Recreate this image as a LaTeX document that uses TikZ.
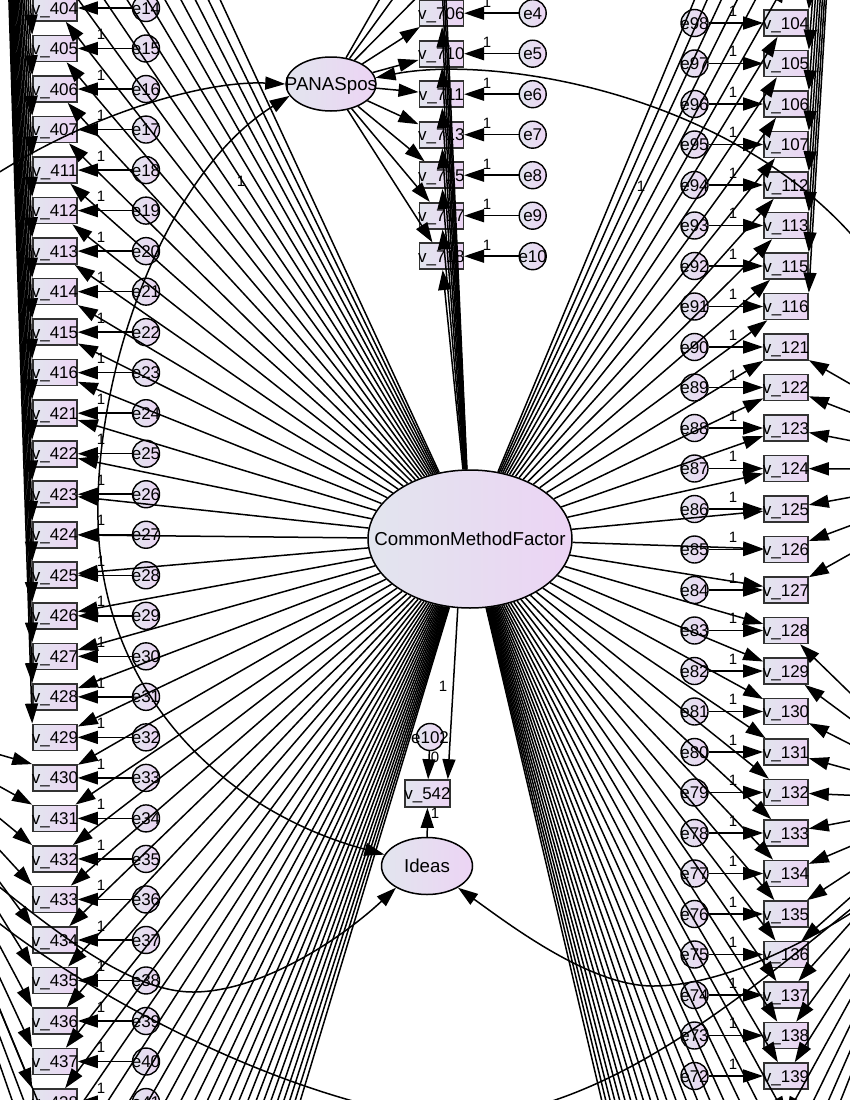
\documentclass[tikz,border=0pt]{standalone}
\usepackage{fontspec}
\setmainfont{Liberation Sans}
\usetikzlibrary{arrows.meta,shapes.geometric,calc}
\definecolor{gl}{RGB}{226,229,238}
\definecolor{gr}{RGB}{236,212,244}
\definecolor{bord}{RGB}{50,50,50}
\tikzset{
  lbl/.style={font=\fontsize{17}{18}\selectfont,inner sep=0pt,text height=12.2pt,text depth=0pt},
  biglbl/.style={font=\fontsize{18.7}{20}\selectfont,inner sep=0pt,text height=13.4pt,text depth=0pt},
  obs/.style={rectangle,draw=bord,line width=1.6pt,minimum width=44pt,minimum height=26pt,inner sep=0pt,left color=gl,right color=gr},
  err/.style={circle,draw=black,line width=1.4pt,minimum size=27pt,inner sep=0pt,left color=gl,right color=gr},
  lat/.style={ellipse,draw=black,line width=1.5pt,inner sep=0pt,left color=gl,right color=gr},
  arr/.style={-{Triangle[length=20pt,width=13pt]},line width=1.5pt},
  cov/.style={{Triangle[length=20pt,width=13pt]}-{Triangle[length=20pt,width=13pt]},line width=1.5pt},
  one/.style={font=\fontsize{15}{16}\selectfont,inner sep=0pt},
}
\newcommand\mknode[4]{\node[#1] (#2) at (#3) {}; \node[lbl] (t#2) at (#2.center) {#4};}
\begin{document}
\begin{tikzpicture}[x=1pt,y=-1pt]
\useasboundingbox (0,0) rectangle (850,1100);
\begin{scope}
\clip (0,0) rectangle (850,1100);
\fill[white] (0,0) rectangle (850,1100);
% ---------- latent variables ----------
\node[lat,minimum width=204pt,minimum height=138pt] (CMF) at (470,539) {};
\node[biglbl] (tCMF) at (CMF.center) {CommonMethodFactor};
\node[lat,minimum width=90pt,minimum height=54pt] (PAN) at (331,84) {};
\node[biglbl] (tPAN) at (PAN.center) {PANASpos};
\node[lat,minimum width=91pt,minimum height=57pt] (Ideas) at (427,866) {};
\node[biglbl] (tIdeas) at (Ideas.center) {Ideas};
\mknode{obs,minimum width=45pt,minimum height=27pt}{V542}{427.5,793.5}{v\_542}
\mknode{err}{E102}{430,737}{e102}
% ---------- left column ----------
\foreach \lab [count=\i from 0] in {404,405,406,407,411,412,413,414,415,416,421,422,423,424,425,426,427,428,429,430,431,432,433,434,435,436,437,438}{%
  \pgfmathsetmacro\yy{8+40.52*\i}%
  \pgfmathtruncatemacro\en{14+\i}%
  \mknode{obs}{L\i}{55,\yy}{v\_\lab}%
  \mknode{err}{EL\i}{146,\yy}{e\en}%
}
% ---------- right column ----------
\foreach \lab [count=\i from 0] in {104,105,106,107,112,113,115,116,121,122,123,124,125,126,127,128,129,130,131,132,133,134,135,136,137,138,139}{%
  \pgfmathsetmacro\yy{23+40.5*\i}%
  \pgfmathtruncatemacro\en{98-\i}%
  \mknode{obs}{R\i}{786,\yy}{v\_\lab}%
  \mknode{err}{ER\i}{694.5,\yy}{e\en}%
}
% ---------- middle column ----------
\foreach \lab [count=\i from 0] in {706,710,711,713,715,717,718}{%
  \pgfmathsetmacro\yy{13.2+40.5*\i}%
  \pgfmathtruncatemacro\en{4+\i}%
  \mknode{obs}{M\i}{441.3,\yy}{v\_\lab}%
  \mknode{err}{EM\i}{532.7,\yy}{e\en}%
}
% ---------- off-picture ends ----------
\coordinate (FA) at (-20,-900);
\coordinate (FB2) at (-120,720);
\coordinate (FR1) at (880,-900);
\coordinate (FR2) at (1000,470);
\coordinate (FR3) at (960,800);
\foreach \k in {1,...,9}{\coordinate (LA\k) at (55,8-40.52*\k);}
\foreach \k in {1,...,20}{\coordinate (LB\k) at (55,8+40.52*27+40.52*\k);}
\foreach \k in {1,...,6}{\coordinate (RA\k) at (786,23-40.5*\k);}
\foreach \k in {1,...,20}{\coordinate (RB\k) at (786,23+40.5*26+40.5*\k);}
\foreach \k in {1,2,3}{\coordinate (MA\k) at (441.3,13.2-40.5*\k);}
% ---------- error arrows ----------
\foreach \i in {0,...,27}{\pgfmathsetmacro\yy{8+40.52*\i}\draw[arr] (EL\i) -- (L\i); \node[one] (oL\i) at (101,\yy-14) {1};}
\foreach \i in {0,...,26}{\pgfmathsetmacro\yy{23+40.5*\i}\draw[arr] (ER\i) -- (R\i); \node[one] (oR\i) at (733,\yy-12) {1};}
\foreach \i in {0,...,6}{\pgfmathsetmacro\yy{13.2+40.5*\i}\draw[arr] (EM\i) -- (M\i); \node[one] (oM\i) at (487,\yy-11) {1};}
% ---------- CMF loadings ----------
\foreach \i in {0,...,27}{\draw[arr] (CMF) -- (L\i);}
\foreach \i in {0,...,26}{\draw[arr] (CMF) -- (R\i);}
\foreach \i in {0,...,6}{\draw[arr] (CMF) -- (M\i); \draw[arr] (PAN) -- (M\i);}
\foreach \k in {1,...,9}{\draw[arr] (CMF) -- (LA\k);}
\foreach \k in {1,...,20}{\draw[arr] (CMF) -- (LB\k);}
\foreach \k in {1,...,6}{\draw[arr] (CMF) -- (RA\k);}
\foreach \k in {1,...,20}{\draw[arr] (CMF) -- (RB\k);}
\foreach \k in {1,2,3}{\draw[arr] (CMF) -- (MA\k); \draw[arr] (PAN) -- (MA\k);}
% ---------- other factors' loadings ----------
\foreach \i in {0,...,18}{\draw[arr] (FA) -- (L\i.north west);}
\foreach \i in {19,...,27}{\draw[arr] (FB2) -- (L\i.north west);}
\foreach \k in {1,2,3}{\draw[arr] (FB2) -- (LB\k);}
\foreach \i in {0,...,7}{\draw[arr] (FR1) -- (R\i.north east);}
\foreach \i in {8,...,14}{\draw[arr] (FR2) -- (R\i);}
\foreach \i in {15,...,26}{\draw[arr] (FR3) -- (R\i);}
\foreach \k in {1,...,4}{\draw[arr] (FR3) -- (RB\k);}
% ---------- v_542 ----------
\draw[arr] (E102) -- (V542);
\draw[arr] (CMF.260) -- ([xshift=-3pt]V542.north east);
\draw[arr] (Ideas) -- (V542);
\node[one] (l0) at (435,757) {0};
\node[one] (l1) at (443,686) {1};
\node[one] (l2) at (435,813) {1};
\node[one] (l3) at (241,181) {1};
\node[one] (l4) at (641,186) {1};
% ---------- covariances ----------
\coordinate (cv1) at (-70,222);
\draw[cov] (cv1) .. controls (60,120) and (200,80) .. (PAN.west);
\draw[cov] (PAN.196) .. controls (170,170) and (95,360) .. (98,520) .. controls (101,690) and (220,810) .. (Ideas.165);
\coordinate (cvA) at (-60,840);
\draw[cov] (cvA) .. controls (30,910) and (120,992) .. (193,992) .. controls (260,992) and (340,940) .. (Ideas.215);
\coordinate (cvB1) at (-40,890);
\coordinate (cvB2) at (900,870);
\draw[cov] (cvB1) .. controls (50,970) and (250,1090) .. (430,1118) .. controls (600,1130) and (760,980) .. (cvB2);
\coordinate (cvC) at (900,880);
\draw[cov] (Ideas.-35) .. controls (510,925) and (590,986) .. (653,986) .. controls (716,986) and (800,950) .. (cvC);
\coordinate (cv6) at (930,340);
\draw[cov] (PAN.8) .. controls (490,55) and (720,90) .. (850,233) .. controls (880,266) and (905,300) .. (cv6);
\end{scope}
\end{tikzpicture}
\end{document}
